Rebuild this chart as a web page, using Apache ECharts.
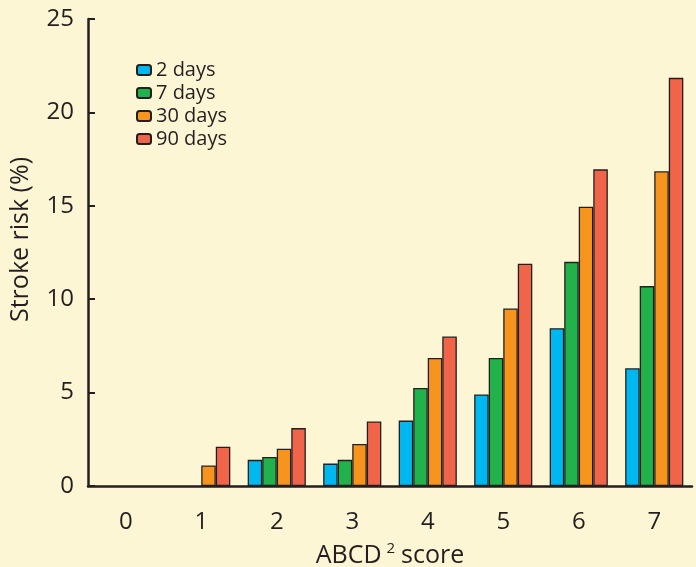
<!DOCTYPE html>
<html><head><meta charset="utf-8">
<script src="https://cdn.jsdelivr.net/npm/echarts@6/dist/echarts.min.js"></script>
<style>html,body{margin:0;padding:0;background:#fdf6d4;}#c{width:696px;height:567px;}</style>
</head><body><div id="c"></div>
<script>
const categories = ['0','1','2','3','4','5','6','7'];
const seriesNames = ['2 days','7 days','30 days','90 days'];
const days2  = [null, null, 1.4, 1.2, 3.5, 4.9, 8.45, 6.3];
const days7  = [null, null, 1.55, 1.4, 5.25, 6.85, 12.0, 10.7];
const days30 = [null, 1.1, 2.0, 2.25, 6.85, 9.5, 14.95, 16.85];
const days90 = [null, 2.1, 3.1, 3.45, 8.0, 11.9, 16.95, 21.85];
const yTicks = [0,5,10,15,20,25];

const colors = ['#00b8f0','#22b24c','#f7941d','#f0654a'];
const font = '"Open Sans", "Noto Sans", sans-serif';
const chart = echarts.init(document.getElementById('c'));
const data = [days2, days7, days30, days90];
chart.setOption({
  backgroundColor: '#fdf6d4',
  animation: false,
  textStyle: {fontFamily: font, color: '#231f20'},
  grid: {left: 88, right: 4, top: 19, bottom: 81, containLabel: false, outerBoundsMode: 'none'},
  legend: {
    orient: 'vertical', left: 131, top: 55, itemGap: 3,
    itemWidth: 14, itemHeight: 10,
    textStyle: {fontFamily: font, fontSize: 20, color: '#231f20'},
    data: seriesNames
  },
  xAxis: {
    type: 'category', data: categories,
    axisLine: {lineStyle: {color: '#231f20', width: 2.5}},
    axisTick: {show: false},
    axisLabel: {fontFamily: font, fontSize: 24, color: '#231f20', margin: 24},
    name: 'ABCD{sup|2}score', nameLocation: 'middle', nameGap: 55,
    nameTextStyle: {fontFamily: font, fontSize: 25, color: '#231f20',
      rich: {sup: {fontSize: 15, verticalAlign: 'top', padding: [0,6,14,5], fontFamily: font, color: '#231f20'}}}
  },
  yAxis: {
    type: 'value', min: 0, max: 25, interval: 5,
    axisLine: {show: true, lineStyle: {color: '#231f20', width: 2.5}},
    axisTick: {show: true, inside: true, length: 7, lineStyle: {color: '#231f20', width: 2}},
    axisLabel: {fontFamily: font, fontSize: 24, color: '#231f20', margin: 14,
      formatter: v => yTicks.includes(v) ? String(v) : ''},
    splitLine: {show: false}
  },
  graphic: [{
    type: 'text', rotation: Math.PI/2,
    style: {text: 'Stroke risk (%)', fontFamily: font, fontSize: 25, fill: '#231f20'},
    position: [8, 322], originX: 0, originY: 0
  }],
  series: data.map((d, i) => ({
    name: seriesNames[i], type: 'bar', data: d,
    barGap: '0%', barCategoryGap: '23%',
    itemStyle: {color: colors[i], borderColor: '#231f20', borderWidth: 1.3}
  }))
});
</script></body></html>
